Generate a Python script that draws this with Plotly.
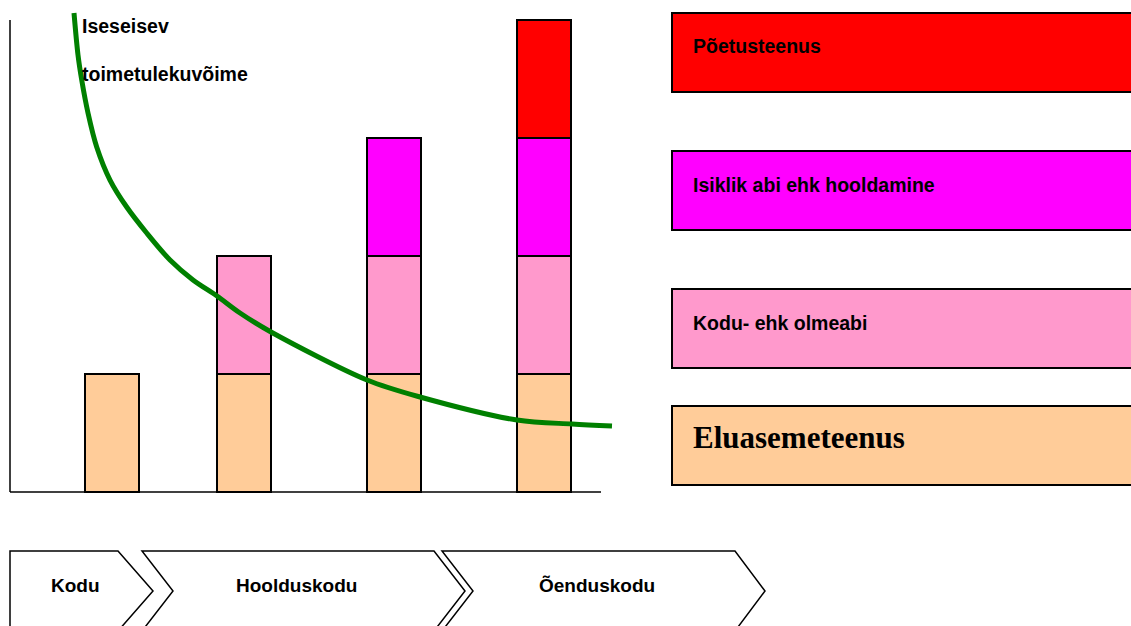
import plotly.graph_objects as go

# ---------------- data ----------------
stages = ["Kodu", "Hoolduskodu", "Õenduskodu"]
series_names = ["Eluasemeteenus", "Kodu- ehk olmeabi",
                "Isiklik abi ehk hooldamine", "Põetusteenus"]
eluasemeteenus = [1, 1, 1, 1]
kodu_abi = [None, 1, 1, 1]
isiklik_abi = [None, None, 1, 1]
poetusteenus = [None, None, None, 1]
curve_label = ["Iseseisev", "toimetulekuvõime"]
# independent coping ability curve (x in px-like units, y in bar units)
curve_x = [74, 78, 81.7, 88, 96.7, 110, 126.7, 146.7, 170, 193, 217, 240, 271,
           367, 420, 517, 572, 612]
curve_y = [4.059, 3.703, 3.492, 3.212, 2.924, 2.644, 2.415, 2.195, 1.966, 1.797,
           1.661, 1.517, 1.356, 0.949, 0.805, 0.610, 0.576, 0.559]

# ---------------- layout constants ----------------
W, H = 1131, 626
BASE_PX, PX_PER_UNIT = 492, 118
bar_positions = [112, 244, 394, 544]
bar_width = 54
colors = ["#FFCC99", "#FF99CC", "#FF00FF", "#FF0000"]
FONT = "Liberation Sans, Arial, Helvetica, sans-serif"
TXT = dict(family=FONT, size=19.5, color="black", weight="bold")


def yd(p):
    return (BASE_PX - p) / PX_PER_UNIT


fig = go.Figure()
for name, vals, col in zip(series_names,
                           [eluasemeteenus, kodu_abi, isiklik_abi, poetusteenus],
                           colors):
    fig.add_trace(go.Bar(x=bar_positions, y=vals, name=name, width=bar_width,
                         marker=dict(color=col, line=dict(color="black", width=1.5)),
                         hoverinfo="skip", showlegend=False))

fig.add_trace(go.Scatter(x=curve_x, y=curve_y, mode="lines",
                         line=dict(color="#008000", width=5, shape="spline", smoothing=0.9),
                         hoverinfo="skip", showlegend=False))

shapes = []
# axis lines
shapes.append(dict(type="line", xref="x", yref="y", x0=10, x1=10, y0=yd(20), y1=yd(492),
                   line=dict(color="black", width=1.5)))
shapes.append(dict(type="line", xref="x", yref="y", x0=10, x1=601, y0=yd(492), y1=yd(492),
                   line=dict(color="black", width=1.5)))

annotations = []
for txt, py in zip(curve_label, [26, 74]):
    annotations.append(dict(x=80, y=yd(py), xref="x", yref="y", text=txt, showarrow=False,
                            xanchor="left", yanchor="middle", font=TXT))

# legend boxes (right side)
box_tops = [406, 289, 151, 13]
text_off = [31, 34, 34, 33]
for i, (name, col) in enumerate(zip(series_names, colors)):
    t = box_tops[i]
    shapes.append(dict(type="rect", xref="x", yref="y", x0=672, x1=1140,
                       y0=yd(t), y1=yd(t + 79), fillcolor=col,
                       line=dict(color="black", width=2), layer="below"))
    if i == 0:
        f = dict(family="Liberation Serif, Times New Roman, serif", size=31,
                 color="black", weight="bold")
    else:
        f = TXT
    annotations.append(dict(x=691, y=yd(t + text_off[i]), xref="x", yref="y", text=name,
                            showarrow=False, xanchor="left", yanchor="middle", font=f))

# stage chevrons
top, mid, bot = 551, 591, 631
chevrons = [
    [(10, top), (118, top), (153, mid), (118, bot), (10, bot)],
    [(142, top), (434, top), (465, mid), (434, bot), (142, bot), (173, mid)],
    [(442, top), (735, top), (765, mid), (735, bot), (442, bot), (473, mid)],
]
label_x = [75, 296, 597]
for pts, lx, st in zip(chevrons, label_x, stages):
    path = "M " + " L ".join(f"{x},{yd(y)}" for x, y in pts) + " Z"
    shapes.append(dict(type="path", xref="x", yref="y", path=path, fillcolor="white",
                       line=dict(color="black", width=1.5)))
    annotations.append(dict(x=lx, y=yd(585), xref="x", yref="y", text=st, showarrow=False,
                            xanchor="center", yanchor="middle",
                            font=dict(family=FONT, size=19, color="black", weight="bold")))

fig.update_layout(
    width=W, height=H, autosize=False,
    margin=dict(l=0, r=0, t=0, b=0, pad=0),
    paper_bgcolor="white", plot_bgcolor="white",
    barmode="stack", bargap=0,
    xaxis=dict(range=[0, W], visible=False, domain=[0, 1], fixedrange=True),
    yaxis=dict(range=[yd(H), yd(0)], visible=False, domain=[0, 1], fixedrange=True),
    shapes=shapes, annotations=annotations,
)

fig.write_html("out.html", config={"displayModeBar": False, "staticPlot": True},
               post_script="document.body.style.margin='0';document.body.style.overflow='hidden';")
